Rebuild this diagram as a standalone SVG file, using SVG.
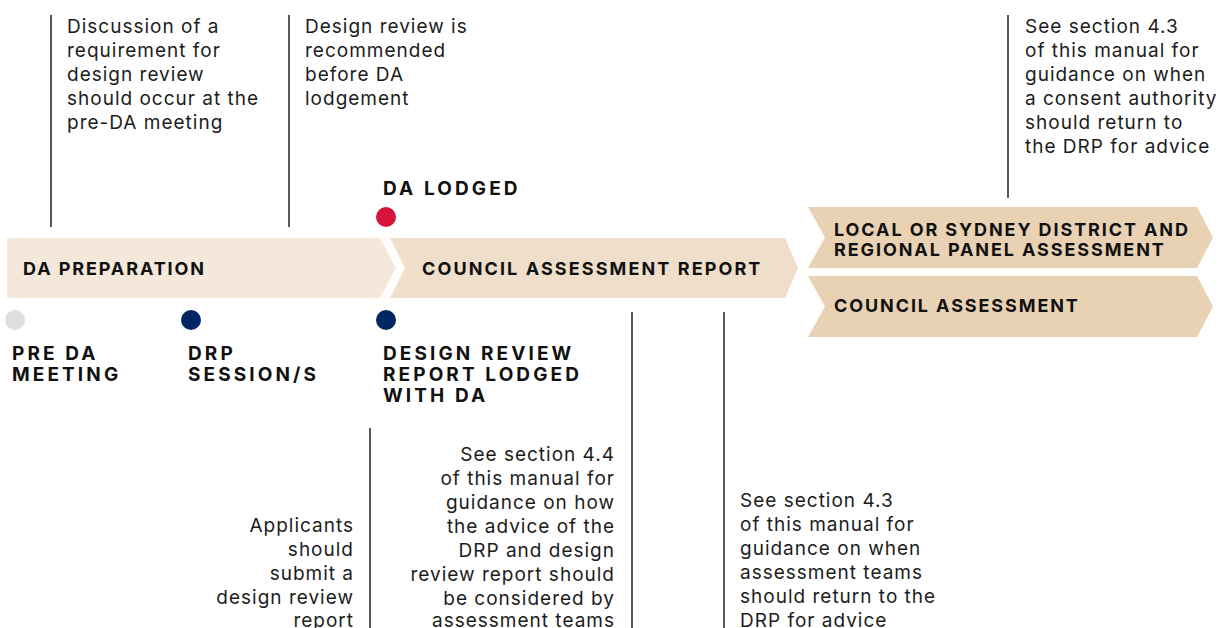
<svg xmlns="http://www.w3.org/2000/svg" width="1221" height="628" viewBox="0 0 1221 628">
<style>
.body{font-family:Inter,"Liberation Sans",sans-serif;font-size:19px;fill:#1c1c1c;letter-spacing:1px}
.lab{font-family:Inter,"Liberation Sans",sans-serif;font-size:18px;font-weight:700;fill:#111;letter-spacing:1.9px}
.ms{font-family:Inter,"Liberation Sans",sans-serif;font-size:19px;font-weight:700;fill:#111;letter-spacing:3.1px}
.r{text-anchor:end}
.ln{stroke:#222;stroke-width:1.5;fill:none}
</style>
<rect width="1221" height="628" fill="#fff"/>
<g id="connectors">
<line class="ln" x1="51" y1="15" x2="51" y2="227"/>
<line class="ln" x1="289" y1="15" x2="289" y2="227"/>
<line class="ln" x1="1008" y1="15" x2="1008" y2="198"/>
<line class="ln" x1="370" y1="428" x2="370" y2="628"/>
<line class="ln" x1="632" y1="312" x2="632" y2="628"/>
<line class="ln" x1="724" y1="312" x2="724" y2="628"/>
</g>
<g id="da-preparation">
<polygon points="7,238 380,238 396,268 380,298 7,298" fill="#F4E8DA"/>
<text class="lab" x="23" y="275">DA PREPARATION</text>
</g>
<g id="council-assessment-report">
<polygon points="390,238 785,238 798,268 785,298 390,298 405,268" fill="#EFDEC9"/>
<text class="lab" x="422" y="275" style="letter-spacing:2.1px">COUNCIL ASSESSMENT REPORT</text>
</g>
<g id="panel-assessment">
<polygon points="808,207 1197,207 1213,237.5 1197,268 808,268 825,237.5" fill="#E9D1B3"/>
<text class="lab" x="834" y="236">LOCAL OR SYDNEY DISTRICT AND</text>
<text class="lab" x="834" y="256">REGIONAL PANEL ASSESSMENT</text>
</g>
<g id="council-assessment">
<polygon points="808,276 1197,276 1213,306.5 1197,337 808,337 825,306.5" fill="#E9D1B3"/>
<text class="lab" x="834" y="312">COUNCIL ASSESSMENT</text>
</g>
<g id="da-lodged">
<text class="ms" x="383" y="195">DA LODGED</text>
<circle cx="386" cy="217" r="10" fill="#D7153A"/>
</g>
<g id="pre-da-meeting">
<circle cx="15" cy="320" r="10" fill="#DEDFE1"/>
<text class="ms" x="12" y="360">PRE DA</text>
<text class="ms" x="12" y="381">MEETING</text>
</g>
<g id="drp-sessions">
<circle cx="191" cy="320" r="10" fill="#002664"/>
<text class="ms" x="188" y="360">DRP</text>
<text class="ms" x="188" y="381">SESSION/S</text>
</g>
<g id="design-review-report">
<circle cx="386" cy="320" r="10" fill="#002664"/>
<text class="ms" x="383" y="360">DESIGN REVIEW</text>
<text class="ms" x="383" y="381">REPORT LODGED</text>
<text class="ms" x="383" y="402">WITH DA</text>
</g>
<g id="note-pre-da">
<text class="body" x="67" y="33">Discussion of a</text>
<text class="body" x="67" y="57">requirement for</text>
<text class="body" x="67" y="81">design review</text>
<text class="body" x="67" y="105">should occur at the</text>
<text class="body" x="67" y="129">pre-DA meeting</text>
</g>
<g id="note-design-review">
<text class="body" x="305" y="33">Design review is</text>
<text class="body" x="305" y="57">recommended</text>
<text class="body" x="305" y="81">before DA</text>
<text class="body" x="305" y="105">lodgement</text>
</g>
<g id="note-consent-authority">
<text class="body" x="1025" y="33">See section 4.3</text>
<text class="body" x="1025" y="57">of this manual for</text>
<text class="body" x="1025" y="81">guidance on when</text>
<text class="body" x="1025" y="105">a consent authority</text>
<text class="body" x="1025" y="129">should return to</text>
<text class="body" x="1025" y="153">the DRP for advice</text>
</g>
<g id="note-applicants">
<text class="body r" x="354" y="532">Applicants</text>
<text class="body r" x="354" y="556">should</text>
<text class="body r" x="354" y="580">submit a</text>
<text class="body r" x="354" y="604">design review</text>
<text class="body r" x="354" y="627">report</text>
</g>
<g id="note-section-44">
<text class="body r" x="615" y="461">See section 4.4</text>
<text class="body r" x="615" y="485">of this manual for</text>
<text class="body r" x="615" y="509">guidance on how</text>
<text class="body r" x="615" y="533">the advice of the</text>
<text class="body r" x="615" y="557">DRP and design</text>
<text class="body r" x="615" y="581">review report should</text>
<text class="body r" x="615" y="605">be considered by</text>
<text class="body r" x="615" y="627">assessment teams</text>
</g>
<g id="note-assessment-teams">
<text class="body" x="740" y="507">See section 4.3</text>
<text class="body" x="740" y="531">of this manual for</text>
<text class="body" x="740" y="555">guidance on when</text>
<text class="body" x="740" y="579">assessment teams</text>
<text class="body" x="740" y="603">should return to the</text>
<text class="body" x="740" y="627">DRP for advice</text>
</g>
</svg>
